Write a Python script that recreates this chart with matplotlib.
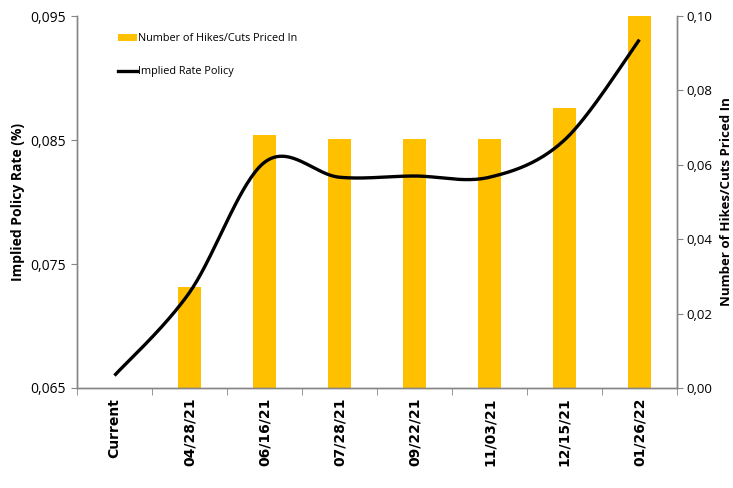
import matplotlib
matplotlib.use("Agg")
import matplotlib.pyplot as plt
import numpy as np
from matplotlib.ticker import FuncFormatter, FixedLocator
from matplotlib.patches import Patch
from matplotlib.lines import Line2D
from matplotlib import font_manager

categories = ["Current", "04/28/21", "06/16/21", "07/28/21", "09/22/21", "11/03/21", "12/15/21", "01/26/22"]
implied_rate = [0.0660, 0.0727, 0.0832, 0.0820, 0.0821, 0.0820, 0.0850, 0.0931]
hikes_priced = [0.0, 0.0272, 0.0680, 0.0669, 0.0669, 0.0669, 0.0753, 0.1000]
left_ticks = [0.065, 0.075, 0.085, 0.095]
right_ticks = [0.00, 0.02, 0.04, 0.06, 0.08, 0.10]

BAR_COLOR = "#FFC000"
AX_GRAY = "#868686"
FONT = "Open Sans"
names = {f.name for f in font_manager.fontManager.ttflist}
LEG_FONT = "Liberation Sans Narrow" if "Liberation Sans Narrow" in names else "Open Sans"
LEG_SIZE = 9 if LEG_FONT == "Liberation Sans Narrow" else 7.8

fig = plt.figure(figsize=(7.33, 4.88), dpi=100)
ax_bar = fig.add_axes([0.105, 0.205, 0.8185, 0.762])
ax_line = ax_bar.twinx()

x = np.arange(len(categories))

# bars on right scale
ax_bar.bar(x, hikes_priced, width=0.3, color=BAR_COLOR, zorder=2)
ax_bar.set_ylim(0, 0.10)
ax_bar.set_xlim(-0.5, len(categories) - 0.5)
ax_bar.yaxis.tick_right()
ax_bar.yaxis.set_major_locator(FixedLocator(right_ticks))
ax_bar.yaxis.set_major_formatter(FuncFormatter(lambda v, p: f"{v:.2f}".replace(".", ",")))
fig.text(726 / 733, 0.5 * (0.205 + 0.967), "Number of Hikes/Cuts Priced In", rotation=90,
         ha="center", va="center", fontsize=9.5, fontweight="bold", family=FONT)

# smoothed line (Excel-style bezier through data points)
def bezier_smooth(xs, ys, n=40):
    xs = np.asarray(xs, float); ys = np.asarray(ys, float)
    px = np.concatenate([[xs[0]], xs, [xs[-1]]])
    py = np.concatenate([[ys[0]], ys, [ys[-1]]])
    outx, outy = [], []
    t = np.linspace(0, 1, n)
    for i in range(1, len(px) - 2):
        p0 = np.array([px[i], py[i]]); p3 = np.array([px[i + 1], py[i + 1]])
        c1 = p0 + (np.array([px[i + 1], py[i + 1]]) - np.array([px[i - 1], py[i - 1]])) / 6
        c2 = p3 - (np.array([px[i + 2], py[i + 2]]) - np.array([px[i], py[i]])) / 6
        bx = (1 - t) ** 3 * p0[0] + 3 * (1 - t) ** 2 * t * c1[0] + 3 * (1 - t) * t ** 2 * c2[0] + t ** 3 * p3[0]
        by = (1 - t) ** 3 * p0[1] + 3 * (1 - t) ** 2 * t * c1[1] + 3 * (1 - t) * t ** 2 * c2[1] + t ** 3 * p3[1]
        outx.extend(bx); outy.extend(by)
    return np.array(outx), np.array(outy)

sx, sy = bezier_smooth(x, implied_rate)
ax_line.plot(sx, sy, color="black", lw=2.4, solid_capstyle="butt", zorder=3)
ax_line.set_ylim(0.065, 0.095)
ax_line.yaxis.tick_left()
ax_line.yaxis.set_major_locator(FixedLocator(left_ticks))
ax_line.yaxis.set_major_formatter(FuncFormatter(lambda v, p: f"{v:.3f}".replace(".", ",")))
fig.text(18 / 733, 0.5 * (0.205 + 0.967), "Implied Policy Rate (%)", rotation=90,
         ha="center", va="center", fontsize=10, fontweight="bold", family=FONT)

# x axis
ax_bar.set_xticks(x)
ax_bar.set_xticklabels(categories, rotation=90, fontsize=10, fontweight="bold")
ax_bar.tick_params(axis="x", which="major", length=0, pad=7)
ax_bar.set_xticks(np.arange(len(categories) + 1) - 0.5, minor=True)
ax_bar.tick_params(axis="x", which="minor", length=5, color=AX_GRAY, direction="out")
ax_line.tick_params(axis="x", which="both", length=0, labelbottom=False)

for a in (ax_bar, ax_line):
    a.spines["top"].set_visible(False)
    for s in ("left", "right", "bottom"):
        a.spines[s].set_color(AX_GRAY)
        a.spines[s].set_linewidth(1.0)
ax_bar.tick_params(axis="y", length=4, color=AX_GRAY, labelsize=9.5, pad=3)
ax_line.tick_params(axis="y", length=4, color=AX_GRAY, labelsize=10, pad=4)
for lab in ax_bar.get_yticklabels() + ax_line.get_yticklabels():
    lab.set_family(FONT)

handles = [Patch(facecolor=BAR_COLOR, edgecolor="none"),
           Line2D([0], [0], color="black", lw=2.4)]
labels = ["Number of Hikes/Cuts Priced In", "Implied Rate Policy"]
leg = fig.legend(handles, labels, loc="upper left", bbox_to_anchor=(0.148, 0.952),
                 frameon=False, prop={"family": LEG_FONT, "size": LEG_SIZE},
                 handlelength=1.7, handleheight=0.7, handletextpad=0.15, labelspacing=2.05)

fig.savefig("out.png", dpi=100)
